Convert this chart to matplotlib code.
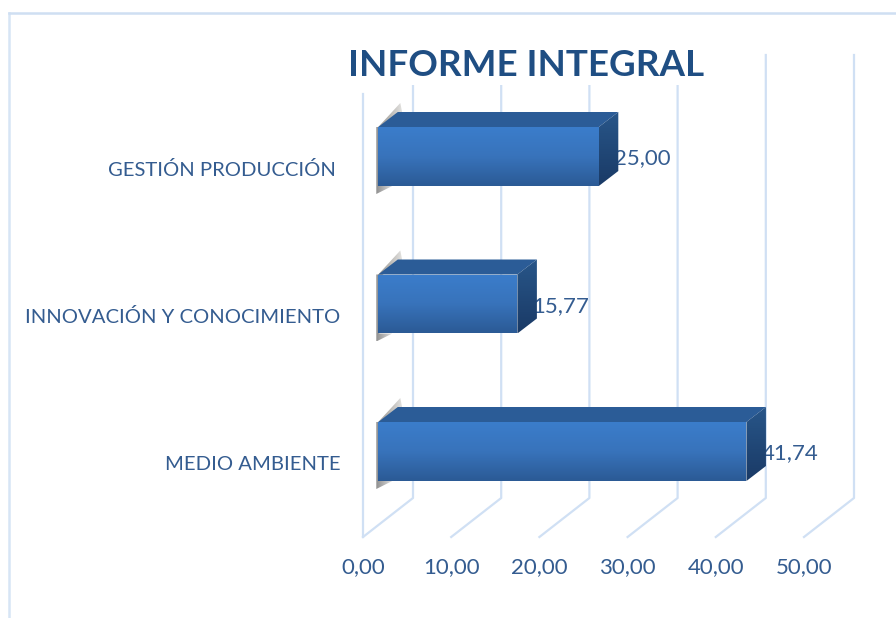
import numpy as np
import matplotlib
matplotlib.use('Agg')
import matplotlib.pyplot as plt
from matplotlib.colors import LinearSegmentedColormap
from matplotlib.patches import Polygon

# Data
categories = ['MEDIO AMBIENTE', 'INNOVACIÓN Y CONOCIMIENTO', 'GESTIÓN PRODUCCIÓN ']
values = [41.74, 15.77, 25.00]
ticks = [0, 10, 20, 30, 40, 50]
tick_labels = ['0,00', '10,00', '20,00', '30,00', '40,00', '50,00']
value_labels = ['41,74', '15,77', '25,00']
title = 'INFORME INTEGRAL'

plt.rcParams['font.family'] = ['Lato', 'DejaVu Sans']

W, H = 896, 618
fig = plt.figure(figsize=(W / 100, H / 100), dpi=100)
ax = fig.add_axes([0, 0, 1, 1])

# x axis is in data units (front plane), y is in pixels from the top
SCALE = 8.82
X0 = 363
ax.set_xlim(-X0 / SCALE, (W - X0) / SCALE)
ax.set_ylim(H, 0)
ax.axis('off')

GRID = '#d0e0f4'
TEXT = '#345c90'
depth_x, depth_y = 50 / SCALE, -39
bar_dx, bar_dy = 19.5 / SCALE, -15
inset = 15.3 / SCALE
floor_y, wall_top = 537, 94
bar_h = 59
bar_step = -147.5
bar_first = 451.5

front_cm = LinearSegmentedColormap.from_list('front', ['#3b7dcb', '#3873bb', '#2b5a95'])
side_cm = LinearSegmentedColormap.from_list('side', ['#285689', '#1a3a66'])
shadow_h_cm = LinearSegmentedColormap.from_list('shadow_h', ['#9c9a96', '#b8b6b2', '#e2e1df'])
shadow_v_cm = LinearSegmentedColormap.from_list('shadow_v', ['#8e8e8e', '#dcdcdc'])


def grad_fill(poly, cmap, vertical=True, zorder=5):
    pts = np.array(poly)
    grad = np.linspace(0, 1, 128).reshape(-1, 1)
    if not vertical:
        grad = grad.T
    extent = (pts[:, 0].min(), pts[:, 0].max(), pts[:, 1].max(), pts[:, 1].min())
    im = ax.imshow(grad, cmap=cmap, extent=extent, aspect='auto', zorder=zorder,
                   interpolation='bilinear')
    im.set_clip_path(Polygon(poly, closed=True, transform=ax.transData))


# Outer frame
ax.plot([9 / SCALE - X0 / SCALE, 9 / SCALE - X0 / SCALE], [H, 13], color='#d7e5f5', lw=1.8, zorder=1)
ax.plot([9 / SCALE - X0 / SCALE, W / SCALE], [13, 13], color='#cfdff2', lw=1.8, zorder=1)

# Walls and floor lines
ax.plot([0, 0], [wall_top, floor_y], color=GRID, lw=1.6, zorder=1)
for t in ticks:
    ax.plot([t, t + depth_x, t + depth_x],
            [floor_y, floor_y + depth_y, floor_y + depth_y - (floor_y - wall_top)],
            color=GRID, lw=1.6, zorder=1)
    ax.text(t, 567, tick_labels[ticks.index(t)], ha='center', va='center',
            fontsize=16, color=TEXT, zorder=2)

# Bars
for i, (name, val, lab) in enumerate(zip(categories, values, value_labels)):
    cy = bar_first + i * bar_step
    top, bottom = cy - bar_h / 2, cy + bar_h / 2
    x0, x1 = inset, inset + val

    ax.text(-22.5 / SCALE, cy + 13, name, ha='right', va='center', fontsize=14.6, color=TEXT, zorder=2)
    ax.text(x1 + 15 / SCALE, cy + 2, lab, ha='left', va='center', fontsize=16, color=TEXT, zorder=2)

    # shadow on the wall behind the base of the bar
    shadow = [(x0 - 1 / SCALE, top + 1), (x0 + 22 / SCALE, top - 24), (x0 + 24 / SCALE, top - 14),
              (x0 + 2 / SCALE, top + 2)]
    grad_fill(shadow, shadow_h_cm, vertical=False, zorder=4)
    shadow2 = [(x0 - 2 / SCALE, top), (x0 + 1 / SCALE, top), (x0 + 1 / SCALE, bottom),
               (x0 + 14 / SCALE, bottom), (x0 - 2 / SCALE, bottom + 8)]
    grad_fill(shadow2, shadow_v_cm, vertical=False, zorder=4)

    top_face = [(x0, top), (x0 + bar_dx, top + bar_dy), (x1 + bar_dx, top + bar_dy), (x1, top)]
    ax.add_patch(Polygon(top_face, closed=True, facecolor='#2b5c97', edgecolor='none', zorder=5))
    side = [(x1, top), (x1 + bar_dx, top + bar_dy), (x1 + bar_dx, bottom + bar_dy), (x1, bottom)]
    grad_fill(side, side_cm, zorder=5)
    front = [(x0, top), (x1, top), (x1, bottom), (x0, bottom)]
    grad_fill(front, front_cm, zorder=6)

# Title sits on a white box and hides the grid behind it
ax.text(526 / SCALE - X0 / SCALE, 66, title, ha='center', va='center', fontsize=26.5,
        fontweight='bold', color='#1f4e83', zorder=8,
        bbox=dict(facecolor='white', edgecolor='none', pad=2))

ax.set_xlim(-X0 / SCALE, (W - X0) / SCALE)
ax.set_ylim(H, 0)
fig.savefig('out.png', dpi=100)
